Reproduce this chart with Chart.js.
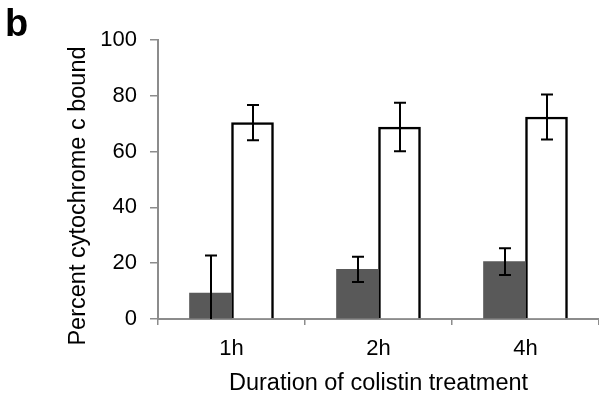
<!DOCTYPE html>
<html>
<head>
<meta charset="utf-8">
<script src="https://cdn.jsdelivr.net/npm/chart.js@4"></script>
<style>
  body { margin: 0; background: #fff; }
  .wrap { position: relative; width: 599px; height: 396px; }
  .panel { position: absolute; left: 5px; top: 4px; font: bold 38px "Liberation Sans", Arial, sans-serif; line-height: 38px; color: #000; }
</style>
</head>
<body>
<div class="wrap">
  <canvas id="chart" width="599" height="396"></canvas>
  <div class="panel">b</div>
</div>
<script>
const categories = ['1h', '2h', '4h'];
const darkValues = [9.3, 17.8, 20.6];
const darkErrors = [13.5, 4.5, 4.8];
const whiteValues = [70.4, 68.8, 72.4];
const whiteErrors = [6.3, 8.7, 8.1];
const yTicks = [0, 20, 40, 60, 80, 100];
const yTitle = 'Percent cytochrome c bound';

const FONT = '"Liberation Sans", Arial, sans-serif';
const AXIS_GREY = '#8c8c8c';

// error bars drawn from the data arrays through the y scale
const errorBars = {
  id: 'errorBars',
  afterDatasetsDraw(chart) {
    const { ctx, scales: { y } } = chart;
    const errs = [darkErrors, whiteErrors];
    ctx.save();
    ctx.strokeStyle = '#000';
    ctx.lineWidth = 2;
    chart.data.datasets.forEach((ds, i) => {
      chart.getDatasetMeta(i).data.forEach((bar, j) => {
        const v = ds.data[j], e = errs[i][j];
        const hi = y.getPixelForValue(v + e);
        const lo = y.getPixelForValue(Math.max(0, v - e));
        const x = Math.round(bar.x);
        ctx.beginPath();
        ctx.moveTo(x, hi); ctx.lineTo(x, lo);
        ctx.moveTo(x - 6, hi); ctx.lineTo(x + 6, hi);
        if (v - e > 0) { ctx.moveTo(x - 6, lo); ctx.lineTo(x + 6, lo); }
        ctx.stroke();
      });
    });
    ctx.restore();
  }
};

// y title sits a bit below the plot centre in the original, so draw it here
const yTitlePlugin = {
  id: 'yTitle',
  afterDraw(chart) {
    const { ctx } = chart;
    ctx.save();
    ctx.translate(79, 196);
    ctx.rotate(-Math.PI / 2);
    ctx.font = '23.5px ' + FONT;
    ctx.fillStyle = '#000';
    ctx.textAlign = 'center';
    ctx.textBaseline = 'middle';
    ctx.fillText(yTitle, 0, 0);
    ctx.restore();
  }
};

new Chart(document.getElementById('chart'), {
  type: 'bar',
  data: {
    labels: categories,
    datasets: [
      { label: 'a', data: darkValues, backgroundColor: '#595959', borderWidth: 0, barThickness: 42 },
      { label: 'b', data: whiteValues, backgroundColor: '#fff', borderColor: '#000', borderWidth: 2.5, borderSkipped: 'bottom', barThickness: 42 },
    ]
  },
  options: {
    responsive: false,
    animation: false,
    devicePixelRatio: 1,
    layout: { padding: { top: 40, right: 0, left: 0, bottom: 0 } },
    plugins: { legend: { display: false }, tooltip: { enabled: false } },
    scales: {
      x: {
        afterFit(s) { s.height = 77; },
        border: { color: AXIS_GREY, width: 2 },
        grid: { drawOnChartArea: false, color: AXIS_GREY, lineWidth: 1.5, tickLength: 6, offset: true },
        ticks: { color: '#000', font: { family: FONT, size: 22 }, padding: 11, maxRotation: 0 },
        title: { display: true, text: 'Duration of colistin treatment', color: '#000', font: { family: FONT, size: 23.5, lineHeight: 1 }, padding: { top: 0, bottom: 0.5 } }
      },
      y: {
        min: 0, max: 100,
        afterFit(s) { s.width = 158; },
        afterBuildTicks(s) { s.ticks = yTicks.map(v => ({ value: v })); },
        border: { color: AXIS_GREY, width: 2 },
        grid: { drawOnChartArea: false, color: AXIS_GREY, lineWidth: 1.5, tickLength: 8 },
        ticks: { color: '#000', font: { family: FONT, size: 22 }, padding: 13 },
        title: { display: false }
      }
    }
  },
  plugins: [errorBars, yTitlePlugin]
});
</script>
</body>
</html>
